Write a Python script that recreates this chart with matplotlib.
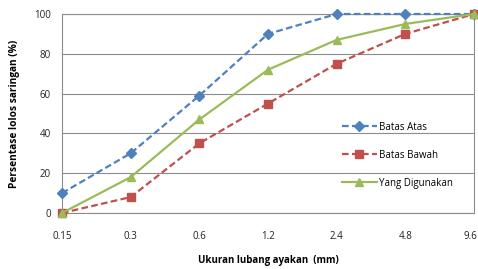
import matplotlib
matplotlib.use("Agg")
import matplotlib.pyplot as plt
import matplotlib.transforms as mtransforms

categories = ["0.15", "0.3", "0.6", "1.2", "2.4", "4.8", "9.6"]
batas_atas = [10, 30, 59, 90, 100, 100, 100]
batas_bawah = [0, 8, 35, 55, 75, 90, 100]
yang_digunakan = [0, 18, 47, 72, 87, 95, 100]
yticks = [0, 20, 40, 60, 80, 100]

plt.rcParams['font.family'] = ['Open Sans', 'DejaVu Sans']

fig = plt.figure(figsize=(4.78, 2.69), dpi=100)
ax = fig.add_axes([62/478, 1-213/269, (474-62)/478, (213-14)/269])

blue = "#4F81BD"
red = "#C0504D"
green = "#9BBB59"
grid = "#8C8C8C"

x = list(range(len(categories)))
l1, = ax.plot(x, batas_atas, color=blue, lw=1.6, ls=(0, (3, 1.5)), marker="D", ms=5.5,
              label="Batas Atas", clip_on=False, zorder=3)
l2, = ax.plot(x, batas_bawah, color=red, lw=1.6, ls=(0, (3, 1.5)), marker="s", ms=6,
              label="Batas Bawah", clip_on=False, zorder=3)
l3, = ax.plot(x, yang_digunakan, color=green, lw=1.6, ls="-", marker="^", ms=6,
              label="Yang Digunakan", clip_on=False, zorder=3)

ax.set_xlim(0, len(categories) - 1)
ax.set_ylim(0, 100)
ax.set_xticks(x)
ax.set_xticklabels(categories)
ax.set_yticks(yticks)
ax.tick_params(axis="both", length=0, labelsize=7, colors="#222222")
ax.tick_params(axis="x", pad=13)
ax.tick_params(axis="y", pad=8)
ax.grid(axis="y", color=grid, lw=0.8)
ax.set_axisbelow(True)
for s in ax.spines.values():
    s.set_color(grid)
    s.set_linewidth(0.8)

last = ax.get_xticklabels()[-1]
last.set_transform(last.get_transform() + mtransforms.ScaledTranslation(-4/100, 0, fig.dpi_scale_trans))

ax.set_xlabel("Ukuran lubang ayakan  (mm)", fontsize=7, fontweight="bold", labelpad=9)
ax.set_ylabel("Persentase lolos saringan (%)", fontsize=7.3, fontweight="bold", labelpad=10)

leg = ax.legend(handles=[l1, l2, l3], loc="upper left", bbox_to_anchor=(337/478, 1-117/269),
                bbox_transform=fig.transFigure, frameon=False, fontsize=7,
                handlelength=3.6, handletextpad=0.2, labelspacing=1.75, borderpad=0)

fig.savefig("out.png", dpi=100)
